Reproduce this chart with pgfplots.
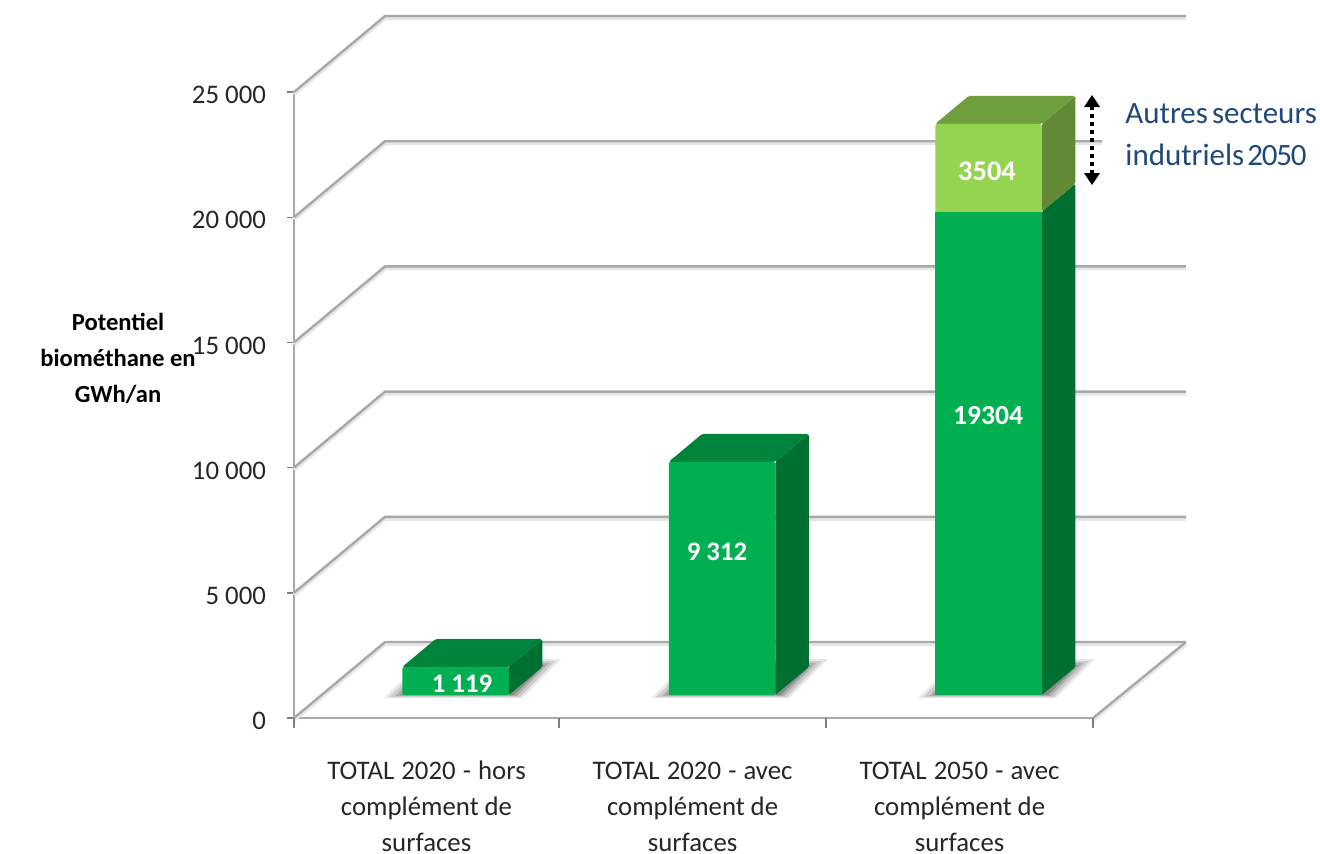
\documentclass[border=0pt]{standalone}
\usepackage{fontspec}
\setmainfont{Carlito}
\usepackage{pgfplots}
\pgfplotsset{compat=1.18}

\definecolor{gridgrey}{HTML}{A8A8A8}
\definecolor{gridhalo}{HTML}{E6E6E6}
\definecolor{tickgrey}{HTML}{7F7F7F}
\definecolor{frontgreen}{HTML}{00B050}
\definecolor{topgreen}{HTML}{00843C}
\definecolor{sidegreen}{HTML}{006F32}
\definecolor{frontlime}{HTML}{94D451}
\definecolor{toplime}{HTML}{6F9E3D}
\definecolor{sidelime}{HTML}{628A36}
\definecolor{noteblue}{HTML}{1F497D}

% one drawing unit: half a point
\newcommand{\wallline}[3]{%
  \addplot[gridhalo, line width=2pt, yshift=-1pt] coordinates {(0,#1) (0.3417,#2) (#3,#2)};
  \addplot[gridgrey, line width=1.2pt] coordinates {(0,#1) (0.3417,#2) (#3,#2)};
}
% three-line category label
\newcommand{\catlabel}[2]{\strut\spaceskip=0.265em\relax TOTAL #1 - #2\\\spaceskip=0.22em\relax complément de\\surfaces}
\pgfplotsset{
  face/.style={draw=none, fill=#1, rounded corners=0.8pt},
  front/.style={ybar, bar width=53.25pt, bar shift=0pt, draw=none, fill=#1},
}

\begin{document}
\begin{tikzpicture}[every node/.append style={font=\fontsize{13.4}{18}\selectfont}]
\path[use as bounding box] (0,0) rectangle (660pt,426.5pt);

% value frame: walls, floor and axis
\begin{axis}[
  at={(147pt,67.5pt)}, anchor=south west,
  scale only axis, width=399.5pt, height=313pt,
  xmin=0, xmax=3, ymin=0, ymax=25000,
  clip=false, scaled ticks=false,
  axis x line=bottom, axis y line=left,
  axis line style={draw=gridgrey, line width=1.2pt, -},
  tick align=outside, major tick length=3.5pt,
  tick style={draw=tickgrey, line width=0.7pt},
  xtick={0,0.995,1.998,3},
  x tick label as interval,
  xticklabels={\catlabel{2020}{hors},\catlabel{2020}{avec},\catlabel{2050}{avec}},
  xticklabel style={align=center, inner sep=0pt, yshift=-14.5pt,
                    font=\fontsize{13.4}{18}\selectfont, text=black!85},
  ytick={0,5000,10000,15000,20000,25000},
  yticklabels={0,5 000,10 000,15 000,20 000,25 000},
  yticklabel style={font=\fontsize{13.4}{18}\selectfont, text=black!85, xshift=-7pt, yshift=-1.5pt},
]
\wallline{0}{3035}{3.349}
\wallline{5000}{8035}{3.349}
\wallline{10000}{13035}{3.349}
\wallline{15000}{18035}{3.349}
\wallline{20000}{23035}{3.034}
\wallline{25000}{28035}{3.349}
\addplot[gridhalo, line width=2pt, yshift=-1pt] coordinates {(3,0) (3.349,3035)};
\addplot[gridgrey, line width=1.2pt] coordinates {(3,0) (3.349,3035)};
% category ticks run a little longer than the value ticks
\addplot[tickgrey, line width=0.7pt] coordinates {(0,0) (0,-400)};
\addplot[tickgrey, line width=0.7pt] coordinates {(0.995,0) (0.995,-400)};
\addplot[tickgrey, line width=0.7pt] coordinates {(1.998,0) (1.998,-400)};
\addplot[tickgrey, line width=0.7pt] coordinates {(3,0) (3,-400)};
\end{axis}

% page-unit layer: floor shadows and the axis title
\begin{axis}[
  at={(0pt,0pt)}, anchor=south west,
  scale only axis, width=660pt, height=426.5pt,
  xmin=0, xmax=1320, ymin=0, ymax=853, y dir=reverse,
  hide axis, clip=false,
]
\pgfplotsinvokeforeach{-534,-267,0}{
  \addplot[fill=black, draw=none, fill opacity=0.09, xshift=#1*0.5pt] coordinates {(918,698) (1056,698) (1095,659) (957,659)} --cycle;
  \addplot[fill=black, draw=none, fill opacity=0.12, xshift=#1*0.5pt] coordinates {(923,697) (1054,697) (1089,661) (960,661)} --cycle;
  \addplot[fill=black, draw=none, fill opacity=0.15, xshift=#1*0.5pt] coordinates {(929,696) (1051,696) (1083,663) (963,663)} --cycle;
  \addplot[fill=black, draw=none, fill opacity=0.2, xshift=#1*0.5pt] coordinates {(934,695) (1048,695) (1078,665) (966,665)} --cycle;
}
\node[align=center, font=\bfseries\fontsize{12.3}{18}\selectfont, inner sep=0pt] at (axis cs:118,358)
  {Potentiel\\biométhane en\\GWh/an};
\end{axis}

% the bars: front faces from the values, with depth faces behind them
\begin{axis}[
  at={(161.125pt,79pt)}, anchor=south west,
  scale only axis, width=399.75pt, height=313pt,
  xmin=-0.5, xmax=2.5, ymin=0, ymax=25000,
  hide axis, clip=false,
]
\addplot[face=topgreen] coordinates {(-0.2,1119) (0.2,1119) (0.3257,2237) (-0.0743,2237)} --cycle;
\addplot[face=sidegreen] coordinates {(0.2,0) (0.3257,1118) (0.3257,2237) (0.2,1119)} --cycle;
\addplot[face=topgreen] coordinates {(0.8,9312) (1.2,9312) (1.3257,10430) (0.9257,10430)} --cycle;
\addplot[face=sidegreen] coordinates {(1.2,0) (1.3257,1118) (1.3257,10430) (1.2,9312)} --cycle;
\addplot[face=sidegreen] coordinates {(2.2,0) (2.3257,1118) (2.3257,20422) (2.2,19304)} --cycle;
\addplot[face=sidelime] coordinates {(2.2,19304) (2.3257,20422) (2.3257,23926) (2.2,22808)} --cycle;
\addplot[face=toplime] coordinates {(1.8,22808) (2.2,22808) (2.3257,23926) (1.9257,23926)} --cycle;
% stack total first, the lower segment over it
\addplot[front=frontlime, rounded corners=1.2pt] coordinates {(2,22808)};
\addplot[front=frontgreen, rounded corners=1.2pt] coordinates {(0,1119) (1,9312)};
\addplot[front=frontgreen] coordinates {(2,19304)};
\end{axis}

% annotations on top of the bars
\begin{axis}[
  at={(0pt,0pt)}, anchor=south west,
  scale only axis, width=660pt, height=426.5pt,
  xmin=0, xmax=1320, ymin=0, ymax=853, y dir=reverse,
  hide axis, clip=false,
]
\addplot[black, line width=2pt, dash pattern=on 2pt off 2pt] coordinates {(1092,106) (1092,174)};
\addplot[fill=black, draw=none] coordinates {(1084,107) (1100,107) (1092,95)} --cycle;
\addplot[fill=black, draw=none] coordinates {(1084,173) (1100,173) (1092,185)} --cycle;
\begin{scope}[every node/.style={font=\bfseries\fontsize{13.4}{18}\selectfont, text=white, inner sep=0pt}]
\node at (axis cs:462,684) {1 119};
\node at (axis cs:717,552) {9 312};
\node[font=\bfseries\fontsize{13.8}{18}\selectfont] at (axis cs:988,416) {19304};
\node[font=\bfseries\fontsize{14.2}{18}\selectfont] at (axis cs:987,171) {3504};
\end{scope}
\node[anchor=west, align=left, inner sep=0pt, text=noteblue,
      font=\fontsize{15.5}{21}\selectfont] at (axis cs:1125,135)
  {\spaceskip=0.13em\relax Autres secteurs\\\spaceskip=0.1em\relax indutriels {\addfontfeature{LetterSpace=-4}2050}};
\end{axis}
\end{tikzpicture}
\end{document}
